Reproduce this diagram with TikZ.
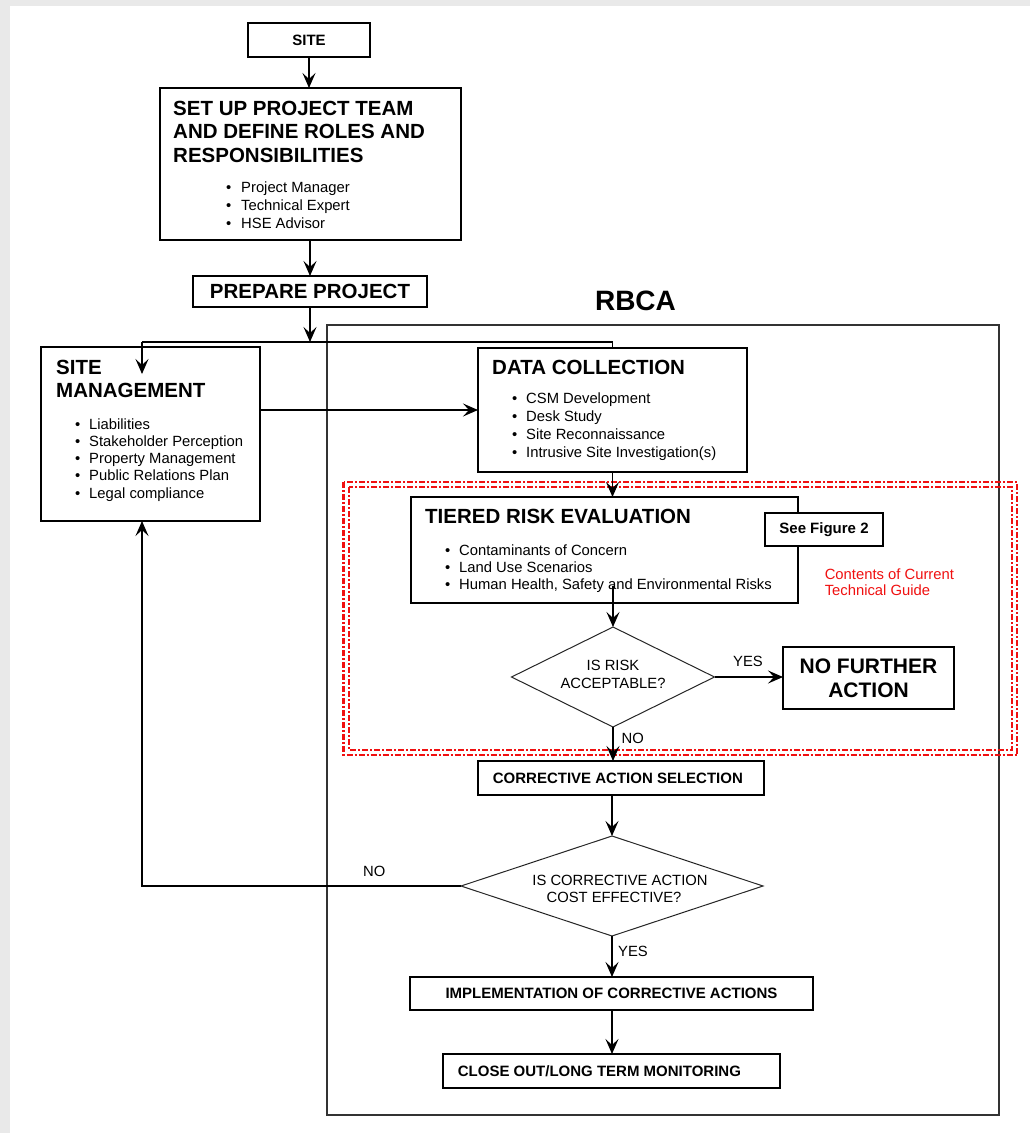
\documentclass[tikz,border=0pt]{standalone}
\usepackage{fontspec}
\setmainfont{Liberation Sans}
\usetikzlibrary{arrows.meta,shapes.geometric}
\definecolor{pagegray}{HTML}{E9E9E9}
\definecolor{rbcaline}{HTML}{333333}
\definecolor{guidered}{HTML}{F01010}
\begin{document}
\begin{tikzpicture}[x=1pt,y=-1pt,
  box/.style={draw=black, line width=1.2pt, rectangle, inner sep=0pt, outer sep=0pt},
  dmd/.style={draw=black!85, line width=1pt, diamond, inner sep=0pt, outer sep=0pt},
  arr/.style={line width=1.3pt, -{Stealth[length=15pt,width=13pt,inset=6pt]}},
  wire/.style={line width=1.3pt},
  hd/.style={font=\fontsize{20.5}{24}\selectfont\bfseries, inner sep=0pt, anchor=base west},
  bt/.style={font=\fontsize{14.8}{18}\selectfont, inner sep=0pt, anchor=base west},
  lbl/.style={font=\fontsize{14.8}{18}\selectfont, inner sep=0pt, anchor=base},
  capt/.style={font=\fontsize{15}{18}\selectfont\bfseries, inner sep=0pt},
  redbox/.style={draw=guidered, line width=2.2pt, dash pattern=on 6pt off 2pt on 2pt off 2pt}
]
% page background
\fill[pagegray] (0,0) rectangle (1030,1133);
\fill[white] (10,6) rectangle (1030,1133);
\useasboundingbox (0,0) rectangle (1030,1133);

% RBCA frame
\node[draw=rbcaline, line width=1.2pt, inner sep=0pt, minimum width=672pt, minimum height=790pt] (rbca) at (663,720) {};
\node[font=\fontsize{28}{32}\selectfont\bfseries, inner sep=0pt, anchor=base] (rbcatitle) at (635.5,310) {RBCA};

% scope of the technical guide
\draw[redbox] (343.5,482) rectangle (1017,755);
\draw[redbox] (349,487) rectangle (1012,750);
\node[bt, text=guidered] (guide1) at (824.6,579) {Contents of Current};
\node[bt, text=guidered] (guide2) at (824.6,595) {Technical Guide};

% boxes
\node[box, capt, minimum width=122pt, minimum height=34pt] (site) at (309,40) {SITE};
\node[box, minimum width=301pt, minimum height=152pt] (setup) at (310.5,164) {};
\node[box, font=\fontsize{20.5}{24}\selectfont\bfseries, minimum width=234pt, minimum height=31pt] (prep) at (310,291.5) {PREPARE PROJECT};
\node[box, minimum width=219pt, minimum height=174pt] (sitemg) at (150.5,434) {};
\node[box, minimum width=269pt, minimum height=124pt] (data) at (612.5,410) {};
\node[box, minimum width=387pt, minimum height=106pt] (tiered) at (604.5,550) {};
\node[box, capt, fill=white, minimum width=118pt, minimum height=33pt] (seefig) at (824,529.5) {See Figure 2};
\node[box, font=\fontsize{21}{23.7}\selectfont\bfseries, align=center, minimum width=171pt, minimum height=62pt] (nfa) at (868.5,678) {NO FURTHER\\ACTION};
\node[box, minimum width=286pt, minimum height=34pt] (cas) at (621,778) {};
\node[box, capt, minimum width=403pt, minimum height=33pt] (impl) at (611.5,993.5) {IMPLEMENTATION OF CORRECTIVE ACTIONS};
\node[box, minimum width=337pt, minimum height=34pt] (close) at (611.5,1071) {};
\node[dmd, minimum width=203pt, minimum height=100pt] (risk) at (613,677) {};
\node[dmd, minimum width=302pt, minimum height=100pt] (cost) at (612,886) {};

% texts in boxes
\node[hd] (setuph1) at (173,115) {SET UP PROJECT TEAM};
\node[hd] (setuph2) at (173,138.5) {AND DEFINE ROLES AND};
\node[hd] (setuph3) at (173,162) {RESPONSIBILITIES};
\foreach \t [count=\i] in {Project Manager, Technical Expert, HSE Advisor}{
  \node[bt] (setupdot\i) at (226,{192+18*(\i-1)}) {\textbullet};
  \node[bt] (setupitem\i) at (241,{192+18*(\i-1)}) {\t};
}
\node[hd] (sitemgh1) at (56,374) {SITE};
\node[hd] (sitemgh2) at (56,397) {MANAGEMENT};
\foreach \t [count=\i] in {Liabilities, Stakeholder Perception, Property Management, Public Relations Plan, Legal compliance}{
  \node[bt] (sitemgdot\i) at (75,{429+17.3*(\i-1)}) {\textbullet};
  \node[bt] (sitemgitem\i) at (89,{429+17.3*(\i-1)}) {\t};
}
\node[hd] (datah) at (492,374.5) {DATA COLLECTION};
\foreach \t [count=\i] in {CSM Development, Desk Study, Site Reconnaissance, Intrusive Site Investigation(s)}{
  \node[bt] (datadot\i) at (512,{403+18*(\i-1)}) {\textbullet};
  \node[bt] (dataitem\i) at (526,{403+18*(\i-1)}) {\t};
}
\node[hd] (tieredh) at (425,523) {TIERED RISK EVALUATION};
\foreach \t [count=\i] in {Contaminants of Concern, Land Use Scenarios, {Human Health, Safety and Environmental Risks}}{
  \node[bt] (tiereddot\i) at (445,{555+17*(\i-1)}) {\textbullet};
  \node[bt] (tiereditem\i) at (459,{555+17*(\i-1)}) {\t};
}
\node[capt, anchor=base west] (cast) at (492.7,783) {CORRECTIVE ACTION SELECTION};
\node[capt, anchor=base west] (closet) at (457.7,1076) {CLOSE OUT/LONG TERM MONITORING};
\node[lbl] (riskt1) at (613,670) {IS RISK};
\node[lbl] (riskt2) at (613,688) {ACCEPTABLE?};
\node[lbl] (costt1) at (620,885) {IS CORRECTIVE ACTION};
\node[lbl] (costt2) at (614,902) {COST EFFECTIVE?};

% connectors
\coordinate (split) at (310,342);
\coordinate (splitl) at (142,342);
\coordinate (splitr) at (612.5,342);
\coordinate (sitemgin) at (142,374);
\coordinate (tieredout) at (613,586);
\coordinate (noturn) at (142,886);

\draw[arr] (site.south) -- (site.south |- setup.north);
\draw[arr] (prep.north |- setup.south) -- (prep.north);
\draw[arr] (prep.south) -- (split);
\draw[wire] (splitl) -- (splitr) -- (data.north);
\draw[arr] (splitl) -- (sitemgin);
\draw[arr] (sitemg.east |- data.west) -- (data.west);
\draw[arr] (data.south) -- (data.south |- tiered.north);
\draw[arr] (tieredout) -- (risk.north);
\draw[arr] (risk.east) -- (risk.east -| nfa.west);
\draw[arr] (risk.south) -- (risk.south |- cas.north);
\draw[arr] (cost.north |- cas.south) -- (cost.north);
\draw[arr] (cost.west) -- (noturn) -- (noturn |- sitemg.south);
\draw[arr] (cost.south) -- (cost.south |- impl.north);
\draw[arr] (cost.south |- impl.south) -- (cost.south |- close.north);

% branch labels
\node[lbl, anchor=base west] (yes1) at (733,666) {YES};
\node[lbl, anchor=base west] (no1) at (621.5,743) {NO};
\node[lbl, anchor=base west] (no2) at (363,876) {NO};
\node[lbl, anchor=base west] (yes2) at (618,956) {YES};
\end{tikzpicture}
\end{document}
